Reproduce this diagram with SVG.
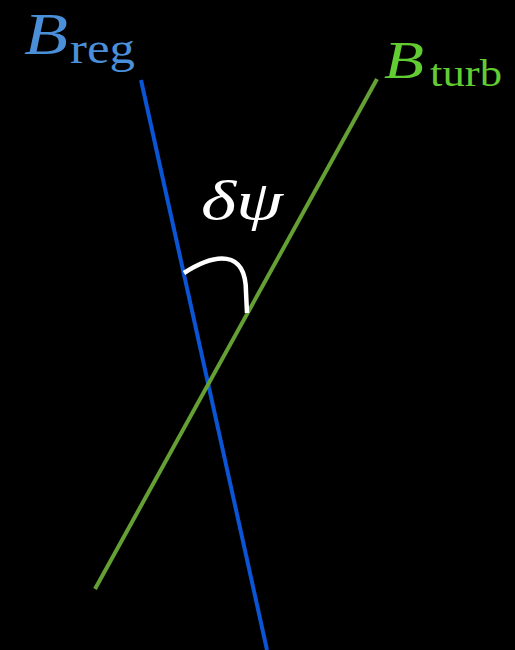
<svg xmlns="http://www.w3.org/2000/svg" width="515" height="650" viewBox="0 0 515 650">
<style>
.lbl{font-family:"Liberation Serif","DejaVu Serif",serif;}
.it{font-style:italic;}
</style>
<rect width="515" height="650" fill="#000"/>
<g id="connectors">
<line id="b-reg-line" x1="141" y1="80" x2="267" y2="650" stroke="#0a55d6" stroke-width="4"/>
<line id="b-turb-line" x1="377" y1="79" x2="95" y2="589" stroke="#64a033" stroke-width="4"/>
<path id="angle-arc" d="M184,273 C215,253 246,249 246,292 L247,313" fill="none" stroke="#fff" stroke-width="4.5"/>
</g>
<g id="label-breg" class="lbl" fill="#4a8fd8">
<text x="24" y="54" font-size="60" class="it" textLength="44" lengthAdjust="spacingAndGlyphs">B</text>
<text x="70" y="63" font-size="45" textLength="65" lengthAdjust="spacingAndGlyphs">reg</text>
</g>
<g id="label-bturb" class="lbl" fill="#62cc33">
<text x="384" y="78" font-size="53" class="it" textLength="40" lengthAdjust="spacingAndGlyphs">B</text>
<text x="430" y="86" font-size="38" textLength="72" lengthAdjust="spacingAndGlyphs">turb</text>
</g>
<g id="label-dpsi" class="lbl" fill="#fff">
<text x="201" y="219" font-size="55" class="it" textLength="82" lengthAdjust="spacingAndGlyphs">δψ</text>
</g>
</svg>
